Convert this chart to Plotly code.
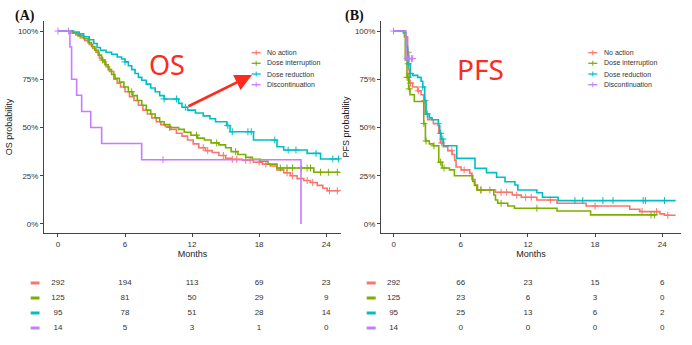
import plotly.graph_objects as go

W, H = 692, 345
groups = ["No action", "Dose interruption", "Dose reduction", "Discontinuation"]
colors = ["#F8766D", "#7CAE00", "#00BFC4", "#C77CFF"]

# ---------------- OS (panel A) ----------------
os_t = [
    [1.1, 1.6, 2.0, 2.4, 2.8, 3.1, 3.4, 3.7, 4.0, 4.3, 4.6, 5.0, 5.3, 5.6, 6.0, 6.4, 6.8, 7.2, 7.6, 8.0,
     8.4, 8.8, 9.2, 9.6, 10.1, 10.6, 11.1, 11.6, 12.1, 12.6, 13.2, 13.8, 14.4, 15.0, 15.5, 16.5, 17.5,
     18.3, 19.0, 19.6, 20.2, 20.8, 21.4, 22.0, 22.6, 23.2, 23.7, 24.1],
    [1.3, 1.8, 2.3, 2.7, 3.0, 3.3, 3.6, 3.9, 4.2, 4.5, 4.8, 5.1, 5.5, 5.9, 6.3, 6.7, 7.1, 7.5, 7.9, 8.3,
     8.7, 9.1, 9.5, 10.0, 10.8, 11.3, 11.9, 12.5, 13.1, 13.7, 14.4, 15.0, 15.5, 16.1, 16.8, 17.4, 18.1,
     18.8, 19.6, 22.9],
    [1.4, 1.9, 2.3, 2.8, 3.2, 3.5, 3.8, 4.3, 4.8, 5.3, 5.7, 6.0, 6.3, 6.6, 6.9, 7.2, 7.5, 7.9, 8.3, 8.7,
     9.1, 9.5, 10.8, 11.1, 11.6, 12.3, 13.0, 13.6, 14.1, 15.1, 15.4, 17.5, 19.6, 20.2, 22.3, 23.5],
    [1.07, 1.22, 1.67, 2.12, 2.93, 3.91, 7.49, 21.75],
]
os_s = [
    [0.99, 0.98, 0.965, 0.95, 0.93, 0.91, 0.89, 0.86, 0.84, 0.815, 0.79, 0.75, 0.73, 0.71, 0.685, 0.66,
     0.64, 0.615, 0.59, 0.57, 0.55, 0.53, 0.515, 0.505, 0.49, 0.47, 0.455, 0.435, 0.415, 0.395, 0.38,
     0.37, 0.355, 0.34, 0.335, 0.33, 0.32, 0.31, 0.30, 0.28, 0.265, 0.25, 0.235, 0.225, 0.215, 0.20,
     0.185, 0.172],
    [0.99, 0.975, 0.96, 0.94, 0.92, 0.90, 0.875, 0.85, 0.825, 0.80, 0.775, 0.755, 0.735, 0.71, 0.685,
     0.665, 0.64, 0.615, 0.59, 0.57, 0.55, 0.53, 0.515, 0.50, 0.49, 0.475, 0.46, 0.445, 0.435, 0.42,
     0.41, 0.395, 0.375, 0.36, 0.345, 0.335, 0.325, 0.31, 0.29, 0.268],
    [0.995, 0.985, 0.97, 0.955, 0.935, 0.915, 0.90, 0.89, 0.88, 0.865, 0.855, 0.84, 0.82, 0.80, 0.78,
     0.76, 0.745, 0.725, 0.705, 0.685, 0.665, 0.648, 0.625, 0.605, 0.59, 0.575, 0.56, 0.545, 0.53, 0.51,
     0.478, 0.435, 0.40, 0.383, 0.366, 0.337],
    [0.917, 0.75, 0.667, 0.583, 0.5, 0.417, 0.333, 0.0],
]
os_end = [25.2, 25.2, 25.2, 21.75]
os_cens = [
    [13.0, 13.4, 14.8, 15.6, 16.0, 16.8, 17.2, 18.0, 18.6, 20.5, 21.0, 22.3, 22.8, 24.3, 25.0],
    [4.0, 6.6, 10.0, 12.4, 14.2, 15.9, 19.9, 20.5, 21.0, 21.8, 22.3, 22.6, 23.5, 24.2, 25.0],
    [6.0, 9.5, 10.6, 11.4, 15.2, 15.6, 17.0, 17.3, 19.4, 20.6, 21.3, 23.1, 24.6, 25.1],
    [0.0, 0.95, 9.4],
]

# ---------------- PFS (panel B) ----------------
pfs_t = [
    [0.96, 1.25, 1.34, 1.40, 1.70, 2.15, 2.45, 2.69, 2.81, 3.04, 3.55, 4.03, 4.18, 4.45, 4.84, 5.22,
     5.46, 5.58, 6.03, 6.8, 7.0, 7.27, 7.5, 9.1, 10.6, 11.4, 12.8, 14.6, 17.2, 21.1, 22.0, 23.8, 24.2],
    [1.04, 1.19, 1.34, 1.46, 1.85, 2.69, 2.84, 3.19, 3.55, 4.03, 4.33, 4.99, 5.43, 7.07, 7.22, 7.43,
     8.95, 9.1, 9.3, 10.2, 10.8, 14.6, 17.6],
    [0.87, 1.10, 1.25, 1.49, 1.70, 2.15, 2.45, 2.60, 2.78, 2.90, 3.19, 3.43, 4.0, 4.12, 4.24, 4.45,
     5.64, 7.27, 8.3, 9.2, 9.95, 10.84, 11.1, 12.8, 13.3, 14.7],
    [1.1],
]
pfs_s = [
    [0.97, 0.89, 0.80, 0.73, 0.71, 0.69, 0.67, 0.64, 0.57, 0.54, 0.52, 0.47, 0.42, 0.40, 0.38, 0.36,
     0.33, 0.295, 0.28, 0.262, 0.23, 0.202, 0.176, 0.164, 0.15, 0.138, 0.124, 0.107, 0.093, 0.076,
     0.064, 0.052, 0.045],
    [0.85, 0.76, 0.70, 0.67, 0.635, 0.52, 0.43, 0.415, 0.405, 0.32, 0.29, 0.28, 0.25, 0.22, 0.20,
     0.176, 0.15, 0.124, 0.107, 0.093, 0.081, 0.067, 0.047],
    [0.99, 0.92, 0.83, 0.78, 0.77, 0.76, 0.74, 0.71, 0.64, 0.57, 0.55, 0.54, 0.51, 0.47, 0.44, 0.405,
     0.34, 0.288, 0.266, 0.242, 0.219, 0.202, 0.176, 0.162, 0.138, 0.121],
    [0.857],
]
pfs_end = [25.2, 23.5, 25.2, 1.7]
pfs_cens = [
    [1.3, 1.5, 2.2, 2.8, 4.0, 4.3, 5.2, 6.3, 7.8, 8.6, 9.6, 10.1, 11.0, 11.8, 12.3, 14.0, 18.0, 22.2,
     23.5, 24.5],
    [1.2, 1.3, 1.4, 2.7, 2.9, 3.6, 4.2, 4.5, 7.8, 9.6, 12.8, 23.0, 23.3],
    [1.3, 1.5, 2.6, 3.0, 4.2, 4.4, 16.2, 16.9, 18.7, 19.6, 22.3, 22.5, 24.2],
    [0.0, 1.2, 1.4, 1.6, 1.7],
]

# ---------------- risk tables ----------------
risk_times = [0, 6, 12, 18, 24]
os_risk = [[292, 194, 113, 69, 23], [125, 81, 50, 29, 9], [95, 78, 51, 28, 14], [14, 5, 3, 1, 0]]
pfs_risk = [[292, 66, 23, 15, 6], [125, 23, 6, 3, 0], [95, 25, 13, 6, 2], [14, 0, 0, 0, 0]]

x_ticks = [0, 6, 12, 18, 24]
y_ticks = [0, 0.25, 0.5, 0.75, 1.0]
y_ticktext = ["0%", "25%", "50%", "75%", "100%"]

FONT = "Liberation Sans, Arial, sans-serif"
AX = "#444444"


def px(x):
    return x / W


def py(y):
    return 1 - y / H


def surv_at(times, surv, t):
    v = 1.0
    for tt, ss in zip(times, surv):
        if tt <= t:
            v = ss
    return v


fig = go.Figure()

panels = [
    dict(t=os_t, s=os_s, end=os_end, cens=os_cens, risk=os_risk, xa="x", ya="y", xt="x3", yt="y3", dash=(30.7, 39.5)),
    dict(t=pfs_t, s=pfs_s, end=pfs_end, cens=pfs_cens, risk=pfs_risk, xa="x2", ya="y2", xt="x4", yt="y4", dash=(366.7, 375.7)),
]

shapes = []
annotations = []

for p in panels:
    for g in range(4):
        xs = [0] + p["t"][g] + [p["end"][g]]
        ys = [1.0] + p["s"][g] + [p["s"][g][-1]]
        fig.add_trace(go.Scatter(x=xs, y=ys, mode="lines", line=dict(color=colors[g], width=1.6, shape="hv"),
                                 xaxis=p["xa"], yaxis=p["ya"], showlegend=False, hoverinfo="skip"))
        cy = [surv_at(p["t"][g], p["s"][g], c) for c in p["cens"][g]]
        fig.add_trace(go.Scatter(x=p["cens"][g], y=cy, mode="markers",
                                 marker=dict(symbol="cross-thin", size=5, line=dict(color=colors[g], width=1)),
                                 xaxis=p["xa"], yaxis=p["ya"], showlegend=False, hoverinfo="skip", cliponaxis=False))
    for g in range(4):
        fig.add_trace(go.Scatter(x=risk_times, y=[g] * 5, mode="text", text=[str(v) for v in p["risk"][g]],
                                 textfont=dict(family=FONT, size=8, color="#333333"),
                                 xaxis=p["xt"], yaxis=p["yt"], showlegend=False, hoverinfo="skip", cliponaxis=False))
        shapes.append(dict(type="line", xref="paper", yref=p["yt"], x0=px(p["dash"][0]), x1=px(p["dash"][1]),
                           y0=g, y1=g, line=dict(color=colors[g], width=3)))

dA = [px(44), px(341)]
dB = [px(381), px(681)]
dPlot = [py(233), py(21)]
dTab = [py(335.5), py(275.5)]
rA = [-1.25, 25.33]
rB = [-1.13, 25.68]
yr = [-0.047, 1.052]

xcommon = dict(showline=True, linecolor=AX, linewidth=1, ticks="outside", ticklen=3, tickcolor=AX,
               tickvals=x_ticks, tickfont=dict(family=FONT, size=8, color="#333333"), showgrid=False,
               zeroline=False)
ycommon = dict(showline=True, linecolor=AX, linewidth=1, ticks="outside", ticklen=3, tickcolor=AX,
               tickvals=y_ticks, ticktext=y_ticktext, tickfont=dict(family=FONT, size=8, color="#333333"),
               showgrid=False, zeroline=False, range=yr)

fig.update_layout(
    width=W, height=H, margin=dict(l=0, r=0, t=0, b=0),
    paper_bgcolor="white", plot_bgcolor="white", showlegend=False,
    xaxis=dict(domain=dA, range=rA, anchor="y",
               title=dict(text="Months", font=dict(family=FONT, size=9, color="#222222"), standoff=0), **xcommon),
    yaxis=dict(domain=dPlot, anchor="x",
               title=dict(text="OS probability", font=dict(family=FONT, size=9, color="#222222"), standoff=3),
               **ycommon),
    xaxis2=dict(domain=dB, range=rB, anchor="y2",
                title=dict(text="Months", font=dict(family=FONT, size=9, color="#222222"), standoff=0), **xcommon),
    yaxis2=dict(domain=dPlot, anchor="x2",
                title=dict(text="PFS probability", font=dict(family=FONT, size=9, color="#222222"), standoff=3),
                **ycommon),
    xaxis3=dict(domain=dA, range=rA, anchor="y3", visible=False),
    yaxis3=dict(domain=dTab, range=[3.5, -0.5], anchor="x3", visible=False),
    xaxis4=dict(domain=dB, range=rB, anchor="y4", visible=False),
    yaxis4=dict(domain=dTab, range=[3.5, -0.5], anchor="x4", visible=False),
)

# manual legends
legend_rows = [52.7, 63.3, 74.0, 84.7]
for (lx0, lx1, tx) in [(251.7, 260.7, 265.0), (588.3, 597.3, 601.7)]:
    for g, ry in enumerate(legend_rows):
        shapes.append(dict(type="line", xref="paper", yref="paper", x0=px(lx0), x1=px(lx1), y0=py(ry), y1=py(ry),
                           line=dict(color=colors[g], width=1.3)))
        cx = (lx0 + lx1) / 2
        shapes.append(dict(type="line", xref="paper", yref="paper", x0=px(cx), x1=px(cx), y0=py(ry - 2.5),
                           y1=py(ry + 2.5), line=dict(color=colors[g], width=1)))
        annotations.append(dict(text=groups[g], xref="paper", yref="paper", x=px(tx), y=py(ry), xanchor="left",
                                yanchor="middle", showarrow=False, font=dict(family=FONT, size=7, color="#333333")))

# panel labels
annotations.append(dict(text="<b>(A)</b>", xref="paper", yref="paper", x=px(25), y=py(16.5), xanchor="center",
                        yanchor="middle", showarrow=False,
                        font=dict(family="Liberation Serif, Times New Roman, serif", size=14, color="#111111")))
annotations.append(dict(text="<b>(B)</b>", xref="paper", yref="paper", x=px(354), y=py(16.5), xanchor="center",
                        yanchor="middle", showarrow=False,
                        font=dict(family="Liberation Serif, Times New Roman, serif", size=14, color="#111111")))
# OS / PFS labels
annotations.append(dict(text="OS", xref="paper", yref="paper", x=px(167), y=py(65), xanchor="center",
                        yanchor="middle", showarrow=False,
                        font=dict(family="Noto Sans, sans-serif", size=27, color="#FF2A1F")))
annotations.append(dict(text="PFS", xref="paper", yref="paper", x=px(480), y=py(69), xanchor="center",
                        yanchor="middle", showarrow=False,
                        font=dict(family="Noto Sans, sans-serif", size=28, color="#FF2A1F")))
# arrow
annotations.append(dict(text="", xref="paper", yref="paper", x=px(252), y=py(75), ax=-65, ay=32,
                        showarrow=True, arrowhead=2, arrowsize=1.3, arrowwidth=2.6, arrowcolor="#FF2A1F"))

fig.update_layout(shapes=shapes, annotations=annotations)

fig.write_html("out.html")
